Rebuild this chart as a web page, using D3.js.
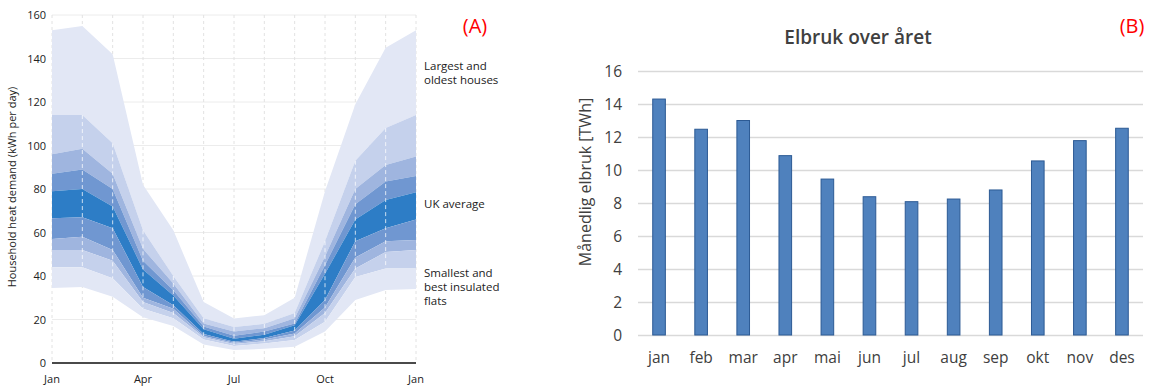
<!DOCTYPE html>
<html>
<head>
<meta charset="utf-8">
<script src="https://cdn.jsdelivr.net/npm/d3@7"></script>
<style>
  html, body { margin: 0; padding: 0; background: #fff; }
  svg { display: block; }
</style>
</head>
<body>
<svg id="chart" width="1149" height="387"></svg>
<script>
// ---- (A) household heat demand, Jan..Jan (13 points) ----
const heatMonths = ["Jan","Feb","Mar","Apr","May","Jun","Jul","Aug","Sep","Oct","Nov","Dec","Jan"];
const heatTickIdx = [0, 3, 6, 9, 12];
const heatYTicks = [0, 20, 40, 60, 80, 100, 120, 140, 160];

// band boundaries, top to bottom
const maxTop  = [153, 155, 142, 82, 61, 28, 20.5, 22, 30, 79, 119, 145, 153];
const p2Top   = [114, 114, 101, 61, 40, 20.6, 16.5, 18, 23, 56, 93, 108, 114];
const p3Top   = [96, 98.5, 87, 52.5, 36.5, 18.2, 14.5, 16, 20.6, 49, 80, 91, 95];
const p4Top   = [87, 89, 80, 47, 33.5, 16.8, 12.5, 14.5, 18.2, 45, 73, 83.5, 86];
const coreTop = [79, 80, 72, 43, 31, 15.5, 11.2, 13, 17.3, 41, 66, 75, 78.5];
const coreBot = [66.5, 67, 62, 35, 26.5, 13.3, 9.8, 11.5, 15, 29, 56, 62, 66];
const p4Bot   = [57, 58, 52, 30, 25, 12.4, 9.3, 10.8, 13.6, 25.5, 48.5, 56, 56.5];
const p3Bot   = [52, 52, 47, 28, 23, 11.8, 8.7, 10, 12.3, 23, 43.5, 51, 52];
const p2Bot   = [44, 44, 39, 25, 20.6, 10.8, 7.8, 9, 10.6, 19, 39.5, 43.5, 43.5];
const minBot  = [34.5, 35, 30.5, 21, 17, 8.5, 6, 6.5, 7.5, 14.5, 29, 33.6, 34];

const heatLabels = [
  ["Largest and", "oldest houses"],
  ["UK average"],
  ["Smallest and", "best insulated", "flats"]
];

// ---- (B) Elbruk over året ----
const elMonths = ["jan","feb","mar","apr","mai","jun","jul","aug","sep","okt","nov","des"];
const elValues = [14.3, 12.47, 13.0, 10.87, 9.45, 8.38, 8.08, 8.24, 8.79, 10.55, 11.78, 12.53];
const elYTicks = [0, 2, 4, 6, 8, 10, 12, 14, 16];

const svg = d3.select("#chart");

// ────────────────────────────── panel A
const fontA = "'Open Sans', sans-serif";
const xA = d3.scaleLinear().domain([0, 12]).range([52, 416]);
const yA = d3.scaleLinear().domain([0, 160]).range([363, 15]);
const gA = svg.append("g");

// grid
gA.selectAll("line.hgrid")
  .data(heatYTicks.filter(d => d > 0))
  .join("line")
    .attr("class", "hgrid")
    .attr("x1", xA(0)).attr("x2", xA(12))
    .attr("y1", d => yA(d)).attr("y2", d => yA(d))
    .attr("stroke", "#ececec").attr("stroke-width", 1);

gA.selectAll("line.vgrid")
  .data(d3.range(13))
  .join("line")
    .attr("class", "vgrid")
    .attr("x1", d => xA(d)).attr("x2", d => xA(d))
    .attr("y1", yA(160)).attr("y2", yA(0))
    .attr("stroke", "#e2e2e2").attr("stroke-width", 1)
    .attr("stroke-dasharray", "3,3");

// bands
const bounds = [maxTop, p2Top, p3Top, p4Top, coreTop, coreBot, p4Bot, p3Bot, p2Bot, minBot];
const bandColors = ["#e2e7f5", "#c5d1ec", "#9fb5df", "#7097d1", "#2d7dc6",
                    "#7097d1", "#9fb5df", "#c5d1ec", "#e2e7f5"];
const area = d3.area()
  .x((d, i) => xA(i))
  .y0(d => yA(d[1]))
  .y1(d => yA(d[0]));

bandColors.forEach((c, k) => {
  const pts = bounds[k].map((v, i) => [v, bounds[k + 1][i]]);
  gA.append("path")
    .datum(pts)
    .attr("d", area)
    .attr("fill", c);
});

// white dashes at monthly points
gA.selectAll("line.wdash")
  .data(d3.range(1, 12))
  .join("line")
    .attr("class", "wdash")
    .attr("x1", d => xA(d)).attr("x2", d => xA(d))
    .attr("y1", d => yA(p2Top[d])).attr("y2", d => yA(p2Bot[d]))
    .attr("stroke", "#ffffff").attr("stroke-opacity", 0.75)
    .attr("stroke-width", 1).attr("stroke-dasharray", "4,3");

// axis line
gA.append("line")
  .attr("x1", xA(0)).attr("x2", xA(12))
  .attr("y1", yA(0)).attr("y2", yA(0))
  .attr("stroke", "#4a4a4a").attr("stroke-width", 2);

// y tick labels
gA.selectAll("text.ytick")
  .data(heatYTicks)
  .join("text")
    .attr("class", "ytick")
    .attr("x", 46).attr("y", d => yA(d) + 4)
    .attr("text-anchor", "end")
    .style("font-family", fontA).style("font-size", "11px")
    .attr("fill", "#222")
    .text(d => d);

// x tick labels
gA.selectAll("text.xtick")
  .data(heatTickIdx)
  .join("text")
    .attr("class", "xtick")
    .attr("x", d => xA(d)).attr("y", 383)
    .attr("text-anchor", "middle")
    .style("font-family", fontA).style("font-size", "11px")
    .attr("fill", "#222")
    .text(d => heatMonths[d]);

// y axis label
gA.append("text")
  .attr("transform", "translate(16,187) rotate(-90)")
  .attr("text-anchor", "middle")
  .style("font-family", fontA).style("font-size", "11px")
  .attr("fill", "#222")
  .text("Household heat demand (kWh per day)");

// right-hand labels
const labelY = [70, 208, 277];
heatLabels.forEach((lines, k) => {
  const t = gA.append("text")
    .attr("x", 424).attr("y", labelY[k])
    .style("font-family", fontA).style("font-size", "11.5px")
    .attr("fill", "#222");
  lines.forEach((ln, j) => {
    t.append("tspan").attr("x", 424).attr("dy", j === 0 ? 0 : 14.2).text(ln);
  });
});

svg.append("text")
  .attr("x", 475).attr("y", 33)
  .attr("text-anchor", "middle")
  .style("font-family", "'Open Sans', sans-serif").style("font-size", "20px")
  .attr("fill", "#ff0000")
  .text("(A)");

// ────────────────────────────── panel B
const fontB = "'Open Sans', sans-serif";
const xB = d3.scaleBand().domain(elMonths).range([638, 1143]).paddingInner(0.7).paddingOuter(0.35);
const yB = d3.scaleLinear().domain([0, 16]).range([335, 71]);
const gB = svg.append("g");

gB.selectAll("line.grid")
  .data(elYTicks)
  .join("line")
    .attr("class", "grid")
    .attr("x1", 638).attr("x2", 1143)
    .attr("y1", d => Math.round(yB(d)) + 0.5).attr("y2", d => Math.round(yB(d)) + 0.5)
    .attr("stroke", "#d9d9d9").attr("stroke-width", 1.3);

gB.selectAll("rect.bar")
  .data(elValues)
  .join("rect")
    .attr("class", "bar")
    .attr("x", (d, i) => xB(elMonths[i]))
    .attr("y", d => yB(d))
    .attr("width", xB.bandwidth())
    .attr("height", d => yB(0) - yB(d))
    .attr("fill", "#4f81bd")
    .attr("stroke", "#2c5a94").attr("stroke-width", 1);

gB.selectAll("text.ytick")
  .data(elYTicks)
  .join("text")
    .attr("class", "ytick")
    .attr("x", 622).attr("y", d => yB(d) + 5.5)
    .attr("text-anchor", "end")
    .style("font-family", fontB).style("font-size", "15.5px")
    .attr("fill", "#404040")
    .text(d => d);

gB.selectAll("text.xtick")
  .data(elMonths)
  .join("text")
    .attr("class", "xtick")
    .attr("x", d => xB(d) + xB.bandwidth() / 2).attr("y", 363)
    .attr("text-anchor", "middle")
    .style("font-family", fontB).style("font-size", "15.5px")
    .attr("fill", "#404040")
    .text(d => d);

gB.append("text")
  .attr("transform", "translate(591,182) rotate(-90)")
  .attr("text-anchor", "middle")
  .style("font-family", fontB).style("font-size", "16px")
  .attr("fill", "#404040")
  .text("Månedlig elbruk [TWh]");

gB.append("text")
  .attr("x", 858).attr("y", 44)
  .attr("text-anchor", "middle")
  .style("font-family", fontB).style("font-size", "19px").style("font-weight", "600")
  .attr("fill", "#404040")
  .text("Elbruk over året");

svg.append("text")
  .attr("x", 1132).attr("y", 33)
  .attr("text-anchor", "middle")
  .style("font-family", "'Open Sans', sans-serif").style("font-size", "20px")
  .attr("fill", "#ff0000")
  .text("(B)");
</script>
</body>
</html>
